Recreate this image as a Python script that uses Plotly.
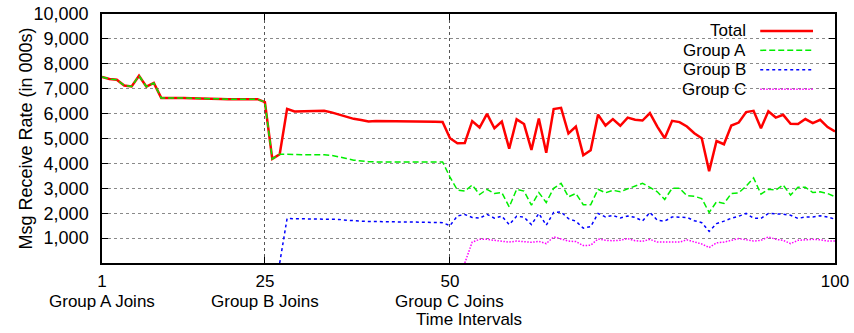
import plotly.graph_objects as go

# Time intervals 1..100
intervals = list(range(1, 101))

total = [7470, 7390, 7360, 7130, 7090, 7520, 7080, 7230, 6630, 6640,
         6640, 6630, 6620, 6620, 6610, 6600, 6590, 6580, 6580, 6580,
         6580, 6580, 6460, 4180, 4370, 6190, 6085, 6085, 6090, 6100,
         6110, 6050, 5960, 5850, 5790, 5740, 5680, 5700, 5700, 5690,
         5700, 5700, 5690, 5700, 5680, 5670, 5660, 5010, 4810, 4820,
         5700, 5440, 5990, 5410, 5680, 4590, 5770, 5580, 4540, 5800,
         4430, 6180, 6230, 5200, 5480, 4330, 4530, 5960, 5520, 5780,
         5510, 5840, 5750, 5720, 6020, 5480, 5010, 5710, 5660, 5480,
         5210, 5010, 3690, 4900, 4770, 5520, 5640, 6060, 6110, 5410,
         6090, 5840, 5950, 5590, 5580, 5780, 5620, 5750, 5460, 5280]

group_a = [7470, 7390, 7360, 7130, 7090, 7520, 7080, 7230, 6630, 6640,
           6640, 6630, 6620, 6620, 6610, 6600, 6590, 6580, 6580, 6580,
           6580, 6580, 6460, 4180, 4370, 4380, 4360, 4350, 4350, 4360,
           4350, 4320, 4270, 4200, 4130, 4090, 4070, 4060, 4060, 4060,
           4060, 4060, 4060, 4060, 4060, 4060, 4060, 3450, 2930, 2890,
           3130, 2750, 2960, 2790, 2830, 2250, 2960, 2890, 2320, 2830,
           2430, 3000, 3200, 2660, 2790, 2340, 2340, 2960, 2820, 2920,
           2860, 2980, 3080, 3200, 3040, 2860, 2550, 3000, 3000, 2700,
           2680, 2590, 2030, 2460, 2390, 2790, 2820, 3090, 3420, 2770,
           2960, 2930, 3130, 2730, 3040, 3040, 2830, 2860, 2790, 2660]

group_b = [None] * 24 + [
           0, 1790, 1780, 1780, 1780, 1780,
           1780, 1770, 1750, 1720, 1690, 1680, 1670, 1660, 1660, 1660,
           1650, 1650, 1650, 1640, 1640, 1640, 1620, 1500, 1890, 1950,
           1830, 1800, 1950, 1800, 1880, 1540, 1880, 1840, 1540, 1990,
           1520, 2030, 2050, 1780, 1680, 1400, 1460, 1990, 1850, 1910,
           1810, 1890, 1830, 1690, 2030, 1720, 1680, 1850, 1830, 1830,
           1700, 1620, 1270, 1580, 1680, 1800, 1880, 1990, 1800, 1790,
           1990, 1990, 1960, 1920, 1790, 1850, 1850, 1900, 1850, 1760]

group_c = [None] * 49 + [
           0,
           840, 950, 950, 910, 880, 840, 880, 840, 830, 870,
           780, 1050, 950, 880, 860, 700, 715, 965, 910, 895,
           915, 980, 895, 870, 950, 840, 840, 840, 840, 930,
           860, 765, 620, 810, 840, 910, 980, 930, 880, 910,
           1050, 950, 910, 780, 910, 930, 950, 930, 880, 880]

# Tick marks sit on these sample positions, labelled with the join points
tick_pos = [1, 23, 48, 100]
tick_text = ["1", "25", "50", "100"]
join_text = ["Group A Joins", "Group B Joins", "Group C Joins"]
y_ticks = [1000, 2000, 3000, 4000, 5000, 6000, 7000, 8000, 9000, 10000]

FONT = "Liberation Sans, Arial, Helvetica, sans-serif"
LOWER = 17  # size of the text stacked under the horizontal axis
KEY = 17    # size of the key labels

series = [
    ("Total", total, "#ff0000", 2.5, "solid"),
    ("Group A", group_a, "#00ee00", 1.5, "6px,3px"),
    ("Group B", group_b, "#0000ff", 1.5, "3px,3px"),
    ("Group C", group_c, "#ff00ff", 1.5, "1.5px,1.5px"),
]

fig = go.Figure()
for name, vals, color, width, dash in series:
    fig.add_trace(go.Scatter(
        x=intervals, y=vals, mode="lines", name=name,
        line=dict(color=color, width=width, dash=dash),
        connectgaps=False, showlegend=False,
    ))

# Key in the upper right: right-aligned labels followed by line samples
annotations = []
shapes = []
key_top = 0.932
key_step = 0.078
for k, (name, vals, color, width, dash) in enumerate(series):
    yk = key_top - k * key_step
    annotations.append(dict(
        xref="paper", yref="paper", x=0.881, y=yk, text=name,
        xanchor="right", yanchor="middle", showarrow=False,
        font=dict(family=FONT, size=KEY, color="black"),
    ))
    shapes.append(dict(
        type="line", xref="paper", yref="paper",
        x0=0.898, x1=0.970, y0=yk, y1=yk,
        line=dict(color=color, width=width, dash=dash),
    ))

# Second line under the tick numbers
for pos, txt in zip(tick_pos, join_text):
    annotations.append(dict(
        xref="x", yref="paper", x=pos, y=-0.1545, text=txt,
        xanchor="center", yanchor="middle", showarrow=False,
        font=dict(family=FONT, size=LOWER, color="black"),
    ))
annotations.append(dict(
    xref="paper", yref="paper", x=0.5, y=-0.2265, text="Time Intervals",
    xanchor="center", yanchor="middle", showarrow=False,
    font=dict(family=FONT, size=LOWER, color="black"),
))
# Vertical axis title
annotations.append(dict(
    xref="paper", yref="paper", x=-0.105, y=0.5,
    text="Msg Receive Rate (in 000s)", textangle=-90,
    xanchor="center", yanchor="middle", showarrow=False,
    font=dict(family=FONT, size=18, color="black"),
))

fig.update_layout(
    width=854, height=333,
    margin=dict(l=102, r=19, t=14, b=70, autoexpand=False),
    paper_bgcolor="white", plot_bgcolor="white",
    font=dict(family=FONT, size=18, color="black"),
    annotations=annotations, shapes=shapes,
    showlegend=False,
)

fig.update_xaxes(
    range=[1, 100], tickmode="array", tickvals=tick_pos, ticktext=tick_text,
    tickfont=dict(family=FONT, size=LOWER, color="black"),
    ticks="inside", ticklen=6, tickcolor="black", tickwidth=1,
    showline=True, linecolor="black", linewidth=1.5, mirror="ticks",
    showgrid=True, gridcolor="#555555", griddash="dot", gridwidth=1,
    zeroline=False, ticklabelstandoff=2, automargin=False,
)
fig.update_yaxes(
    range=[0, 10000], tickmode="array", tickvals=y_ticks, tickformat=",",
    ticks="inside", ticklen=6, tickcolor="black", tickwidth=1,
    showline=True, linecolor="black", linewidth=1.5, mirror="ticks",
    showgrid=True, gridcolor="#8a8a8a", griddash="dot", gridwidth=1,
    zeroline=False, ticklabelstandoff=8, automargin=False,
)

fig.write_html("out.html")
